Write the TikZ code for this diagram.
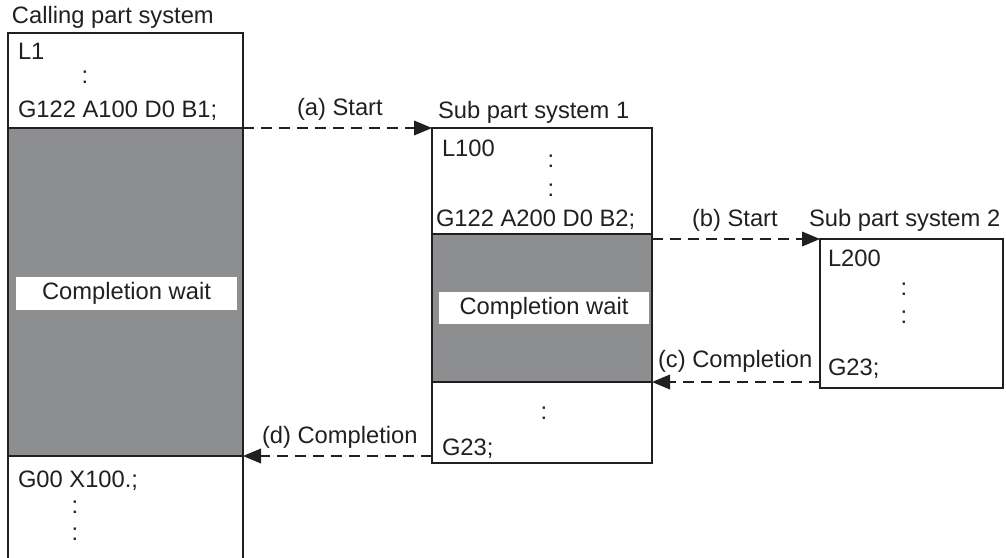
\documentclass[tikz,border=0pt]{standalone}
\usepackage{fontspec}
\setmainfont{Liberation Sans}
\usetikzlibrary{arrows.meta,fit}
\definecolor{ink}{HTML}{231F20}
\definecolor{waitgray}{HTML}{8D8E90}
\begin{document}
\begin{tikzpicture}[x=0.75pt,y=-0.75pt,
  font=\fontsize{17.8}{21}\selectfont, text=ink,
  frame/.style={draw=ink, line width=1.5pt, inner sep=0pt, outer sep=0pt},
  waitbox/.style={frame, fill=waitgray},
  lbl/.style={inner sep=0pt, outer sep=0pt, anchor=base west},
  dotsym/.style={inner sep=0pt, outer sep=0pt, anchor=base},
  waitlbl/.style={fill=white, inner sep=0pt, outer sep=0pt},
  flow/.style={draw=ink, line width=1.1pt, dash pattern=on 8pt off 5.5pt,
    -{Triangle[length=13.5pt,width=11pt]}}]
\useasboundingbox (0,0) rectangle (1006,557);
\clip (0,0) rectangle (1006,557);

% Calling part system
\node[frame, fit={(8,33)(243,565)}] (callbox) {};
\node[waitbox, fit={(8,128)(243,456)}] (callwait) {};
\node[waitlbl, minimum width=165.75pt, minimum height=24.75pt] (callwaitlbl) at (126.5,293.5) {Completion wait};
\node[lbl] (calltitle) at (12,23) {Calling part system};
\node[lbl] (callL1) at (18,59) {L1};
\node[dotsym] (calld1) at (85,83) {:};
\node[lbl] (callG122) at (18,117) {G122 A100 D0 B1;};
\node[lbl] (callG00) at (18,487) {G00 X100.;};
\node[dotsym] (calld2) at (75,513) {:};
\node[dotsym] (calld3) at (75,540) {:};

% Sub part system 1
\node[frame, fit={(432,128)(652,463)}] (sub1box) {};
\node[waitbox, fit={(432,234)(652,382)}] (sub1wait) {};
\node[waitlbl, minimum width=157.5pt, minimum height=24pt] (sub1waitlbl) at (544,308) {Completion wait};
\node[lbl] (sub1title) at (438,118) {Sub part system 1};
\node[lbl] (sub1L) at (442,156) {L100};
\node[dotsym] (sub1d1) at (551,167) {:};
\node[dotsym] (sub1d2) at (551,196) {:};
\node[lbl] (sub1G122) at (436,226) {G122 A200 D0 B2;};
\node[dotsym] (sub1d3) at (544,419) {:};
\node[lbl] (sub1G23) at (442,455) {G23;};

% Sub part system 2
\node[frame, fit={(820,239)(1003,388)}] (sub2box) {};
\node[lbl] (sub2title) at (809,226) {Sub part system 2};
\node[lbl] (sub2L) at (828,266) {L200};
\node[dotsym] (sub2d1) at (904,295) {:};
\node[dotsym] (sub2d2) at (904,323) {:};
\node[lbl] (sub2G23) at (828,375) {G23;};

% Connectors
\draw[flow] (callwait.north east) -- (sub1box.north west);
\draw[flow] (sub1wait.north east |- sub2box.north west) -- (sub2box.north west);
\draw[flow] (sub2box.west |- sub1wait.south east) -- (sub1wait.south east);
\draw[flow] (sub1box.west |- callwait.south east) -- (callwait.south east);

% Connector labels
\node[lbl] (lbla) at (297,115) {(a) Start};
\node[lbl] (lblb) at (692,226) {(b) Start};
\node[lbl] (lblc) at (658,367) {(c) Completion};
\node[lbl] (lbld) at (262,443) {(d) Completion};
\end{tikzpicture}
\end{document}
